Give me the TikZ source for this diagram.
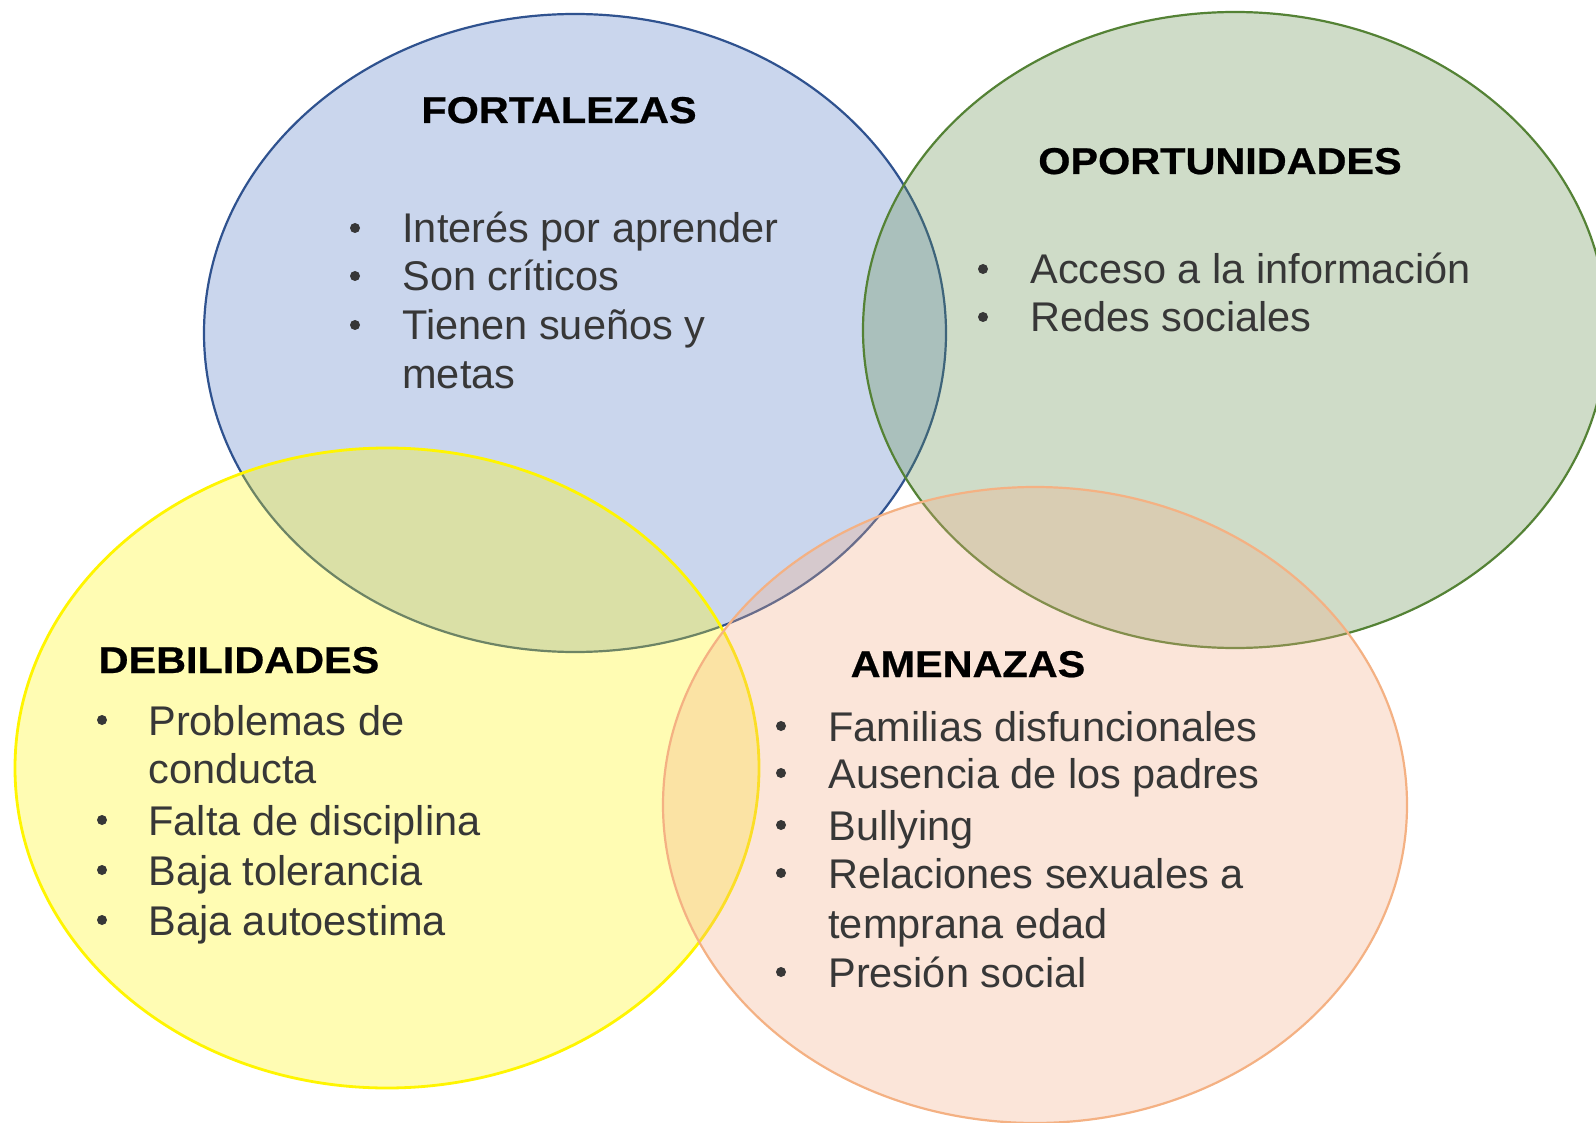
\documentclass[tikz,border=0pt]{standalone}
\usepackage{fontspec}
\setmainfont{Liberation Sans}
\newfontfamily\titleboldfont{Liberation Sans Bold}[FakeStretch=1.11,FakeBold=0.6]
\definecolor{bluefill}{RGB}{82,122,198}
\definecolor{blueline}{RGB}{47,82,143}
\definecolor{greenfill}{RGB}{98,142,76}
\definecolor{greenline}{RGB}{84,130,53}
\definecolor{yellowfill}{RGB}{255,248,5}
\definecolor{yellowline}{RGB}{255,245,0}
\definecolor{orangefill}{RGB}{242,172,132}
\definecolor{orangeline}{RGB}{244,177,131}
\definecolor{bodytxt}{RGB}{55,55,55}
\begin{document}
\begin{tikzpicture}[x=0.5pt,y=-0.5pt,
  blob/.style={line width=1.1pt, fill opacity=0.3, draw opacity=1},
  ttl/.style={anchor=base, inner sep=0pt, text=black, font=\titleboldfont\fontsize{18.65pt}{22pt}\selectfont},
  itm/.style={anchor=base west, inner sep=0pt, text=bodytxt, font=\fontsize{20.75pt}{24pt}\selectfont},
  bul/.style={circle, fill=bodytxt, inner sep=0pt, minimum size=5pt}]
\useasboundingbox (0,0) rectangle (1596,1123);
\clip (0,0) rectangle (1596,1123);
\fill[white] (0,0) rectangle (1596,1123);
% ellipses
\path[blob, draw=blueline, fill=bluefill] (575,333) ellipse [x radius=371, y radius=319];
\path[blob, draw=greenline, fill=greenfill] (1235,330) ellipse [x radius=372, y radius=318];
\path[blob, draw=yellowline, fill=yellowfill, line width=1.4pt] (387,768) ellipse [x radius=372, y radius=320];
\path[blob, draw=orangeline, fill=orangefill] (1035,805) ellipse [x radius=372, y radius=318];
% FORTALEZAS
\node[ttl] (tF) at (559,123) {FORTALEZAS};
\node[bul] (bF1) at (355,228) {};
\node[itm] (F1) at (402,243) {Interés por aprender};
\node[bul] (bF2) at (355,276) {};
\node[itm] (F2) at (402,291) {Son críticos};
\node[bul] (bF3) at (355,325) {};
\node[itm] (F3) at (402,340) {Tienen sueños y};
\node[itm] (F4) at (402,388) {metas};
% OPORTUNIDADES
\node[ttl] (tO) at (1220,174) {OPORTUNIDADES};
\node[bul] (bO1) at (983,269) {};
\node[itm] (O1) at (1030,284) {Acceso a la información};
\node[bul] (bO2) at (983,317) {};
\node[itm] (O2) at (1030,332) {Redes sociales};
% DEBILIDADES
\node[ttl] (tD) at (239,673) {DEBILIDADES};
\node[bul] (bD1) at (102,720) {};
\node[itm] (D1) at (148,735) {Problemas de};
\node[itm] (D2) at (148,783) {conducta};
\node[bul] (bD2) at (102,820) {};
\node[itm] (D3) at (148,835) {Falta de disciplina};
\node[bul] (bD3) at (102,870) {};
\node[itm] (D4) at (148,885) {Baja tolerancia};
\node[bul] (bD4) at (102,920) {};
\node[itm] (D5) at (148,935) {Baja autoestima};
% AMENAZAS
\node[ttl] (tA) at (968,677) {AMENAZAS};
\node[bul] (bA1) at (781,726) {};
\node[itm] (A1) at (828,741) {Familias disfuncionales};
\node[bul] (bA2) at (781,773) {};
\node[itm] (A2) at (828,788) {Ausencia de los padres};
\node[bul] (bA3) at (781,825) {};
\node[itm] (A3) at (828,840) {Bullying};
\node[bul] (bA4) at (781,873) {};
\node[itm] (A4) at (828,888) {Relaciones sexuales a};
\node[itm] (A5) at (828,938) {temprana edad};
\node[bul] (bA5) at (781,972) {};
\node[itm] (A6) at (828,987) {Presión social};
\end{tikzpicture}
\end{document}
